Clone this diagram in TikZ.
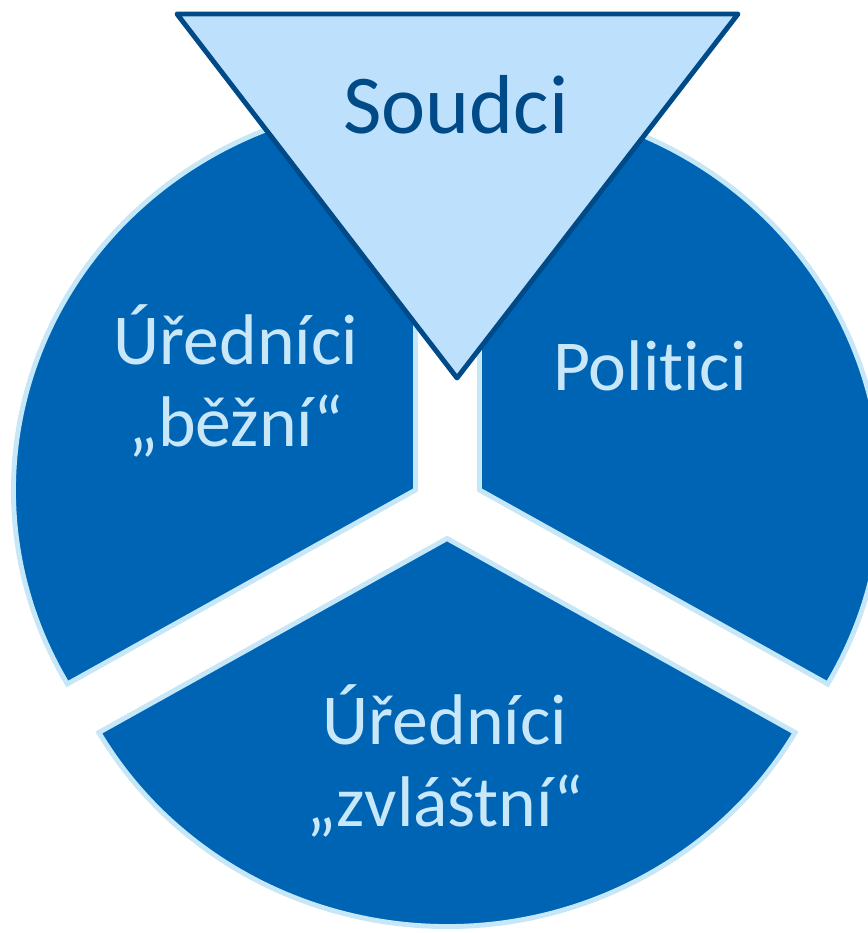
\documentclass[tikz,border=0pt]{standalone}
\usepackage{fontspec}
\setmainfont[Ligatures={NoCommon}]{Carlito}
\usetikzlibrary{positioning}
\definecolor{piefill}{RGB}{0,100,180}
\definecolor{pieline}{RGB}{197,231,248}
\definecolor{pietext}{RGB}{200,232,250}
\definecolor{judgefill}{RGB}{189,224,253}
\definecolor{judgeline}{RGB}{0,74,135}
\tikzstyle{sector}=[fill=piefill,draw=pieline,line width=2.8pt]
\tikzstyle{judge}=[fill=judgefill,draw=judgeline,line width=2.8pt,line join=round]
\tikzstyle{lbl}=[text=pietext,font=\fontsize{40.8}{47}\selectfont,align=center,anchor=base,inner sep=0pt]

\begin{document}
\begin{tikzpicture}[x=0.02cm,y=0.02cm]
		\useasboundingbox (0,0) rectangle (868,933);
		\clip (0,0) rectangle (868,933);
		% three pieces of the pie
		\coordinate (lefttip) at (415.5,443);
		\coordinate (righttip) at (479.5,443);
		\coordinate (bottomtip) at (447,394.5);
		\draw[sector] (lefttip) -- +(210:402 and 388) arc[start angle=210,end angle=90,x radius=402,y radius=388] -- cycle;
		\draw[sector] (righttip) -- +(-30:402 and 388) arc[start angle=-30,end angle=90,x radius=402,y radius=388] -- cycle;
		\draw[sector] (bottomtip) -- +(210:402 and 388) arc[start angle=210,end angle=330,x radius=402,y radius=388] -- cycle;
		% triangle on top
		\draw[judge] (177,919) -- (738,919) -- (457,555) -- cycle;
		\node[lbl,text=judgeline,font=\fontsize{47.6}{55}\selectfont] (soudci) at (456,799) {Soudci};
		% base of a two-line node sits on its last line
		\node[lbl] (bezni) at (236,486) {Úředníci\\„běžní“};
		\node[lbl] (politici) at (650,542) {Politici};
		\node[lbl] (zvlastni) at (445,106) {Úředníci\\„zvláštní“};
	\end{tikzpicture}
\end{document}
